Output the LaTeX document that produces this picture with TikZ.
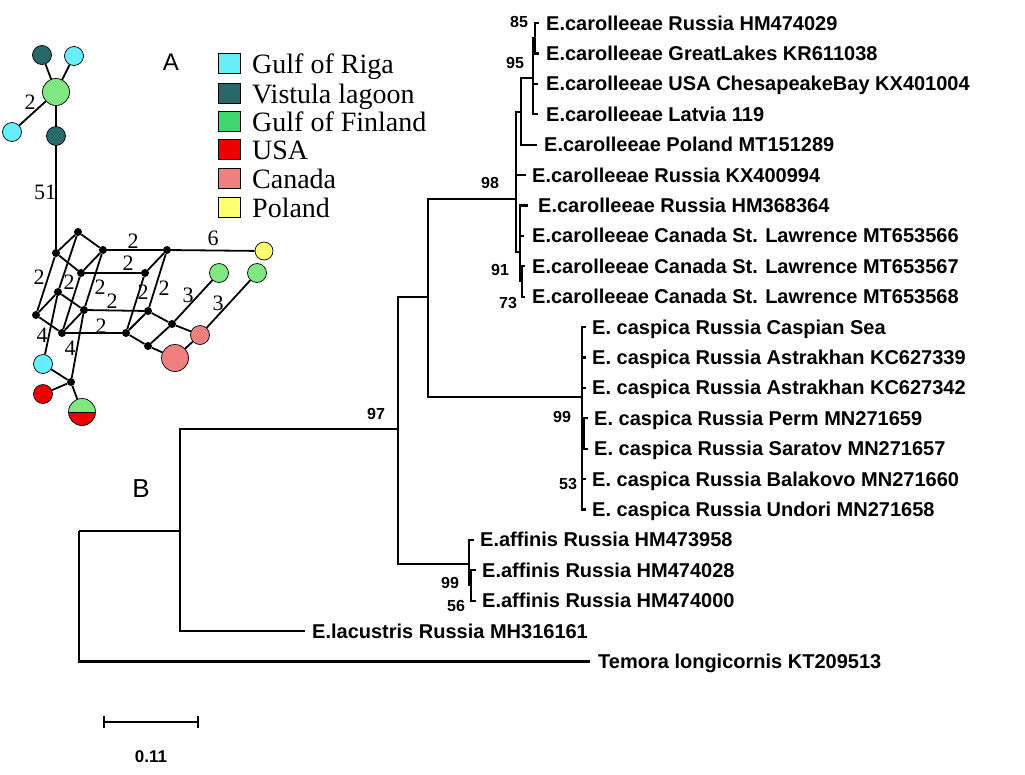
\documentclass[tikz,border=0pt]{standalone}
\usepackage{fontspec}
\setmainfont{Liberation Serif}
\newfontfamily\arialfont{Liberation Sans}
\usetikzlibrary{calc}

\definecolor{riga}{RGB}{102,238,250}
\definecolor{vistula}{RGB}{40,104,104}
\definecolor{finland}{RGB}{64,214,112}
\definecolor{finlandlt}{RGB}{128,232,128}
\definecolor{usa}{RGB}{236,0,0}
\definecolor{canada}{RGB}{240,128,128}
\definecolor{poland}{RGB}{255,255,112}

\begin{document}
\begin{tikzpicture}[
    x=1pt, y=-1pt,
    branch/.style={line width=2.2pt},
    tiplab/.style={anchor=base west, inner sep=0pt, font=\arialfont\bfseries\fontsize{20}{24}\selectfont},
    boot/.style={inner sep=0pt, font=\arialfont\bfseries\fontsize{16}{19}\selectfont},
    med/.style={circle, fill=black, inner sep=0pt, minimum size=8pt},
    hap/.style={circle, draw=black, line width=0.7pt, inner sep=0pt, minimum size=19pt},
    bighap/.style={hap, minimum size=27pt},
    link/.style={line width=1.8pt},
    mut/.style={inner sep=0pt, font=\fontsize{22}{26}\selectfont},
    legbox/.style={draw=black, line width=0.8pt, minimum width=22pt, minimum height=20pt, inner sep=0pt},
    legtext/.style={anchor=base west, inner sep=0pt, font=\fontsize{28}{32}\selectfont},
    panel/.style={inner sep=0pt, font=\arialfont\fontsize{24}{28}\selectfont}
]
\useasboundingbox (0,0) rectangle (1025,774);

% Panel letters
\node[panel] (lblA) at (171,62) {A};
\node[panel, font=\arialfont\fontsize{26}{30}\selectfont] (lblB) at (141,489) {B};

% Legend
\node[legbox, fill=riga] (kRiga) at (229.5,63) {};
\node[legbox, fill=vistula] (kVist) at (229.5,93) {};
\node[legbox, fill=finland] (kFin) at (229.5,121) {};
\node[legbox, fill=usa] (kUsa) at (229.5,149) {};
\node[legbox, fill=canada] (kCan) at (229.5,178) {};
\node[legbox, fill=poland] (kPol) at (229.5,207) {};
\node[legtext] (tRiga) at (252,73) {Gulf of Riga};
\node[legtext] (tVist) at (252,103) {Vistula lagoon};
\node[legtext] (tFin) at (252,131) {Gulf of Finland};
\node[legtext] (tUsa) at (252,159) {USA};
\node[legtext] (tCan) at (252,188) {Canada};
\node[legtext] (tPol) at (252,217) {Poland};

% Haplotype network
\node[hap, fill=vistula] (hT1) at (42,55) {};
\node[hap, fill=riga] (hC1) at (74,56) {};
\node[bighap, fill=finlandlt] (hG) at (56,92) {};
\node[hap, fill=riga] (hC2) at (12,132) {};
\node[hap, fill=vistula] (hT2) at (56,136) {};
\node[med] (m1) at (78,232) {};
\node[med] (m2) at (56,253) {};
\node[med] (m3) at (103,250) {};
\node[med] (m4) at (167,250) {};
\node[hap, minimum size=18pt, fill=poland] (hY) at (264,251) {};
\node[med] (m5) at (81,273) {};
\node[med] (m6) at (145,273) {};
\node[med] (m7) at (58,292) {};
\node[med] (m8) at (36,315) {};
\node[med] (m9) at (84,310) {};
\node[med] (m10) at (148,311) {};
\node[med] (m11) at (62,333) {};
\node[med] (m12) at (126,333) {};
\node[med] (m13) at (172,324) {};
\node[med] (m14) at (148,346) {};
\node[hap, fill=finlandlt] (hG1) at (219,273) {};
\node[hap, fill=finlandlt] (hG2) at (257,273) {};
\node[hap, fill=canada] (hP1) at (200,335) {};
\node[bighap, fill=canada] (hP2) at (175,358) {};
\node[hap, fill=riga] (hC3) at (43,364) {};
\node[med] (m15) at (71,382) {};
\node[hap, fill=usa] (hR) at (43,394) {};
\node[bighap, path picture={
    \fill[finlandlt] (path picture bounding box.north west) rectangle (path picture bounding box.east);
    \fill[usa] (path picture bounding box.west) rectangle (path picture bounding box.south east);
    \draw[line width=0.7pt] (path picture bounding box.west) -- (path picture bounding box.east);
  }] (hH) at (82,412) {};

\draw[link] (hG) -- (hT1);
\draw[link] (hG) -- (hC1);
\draw[link] (hG) -- (hC2);
\draw[link] (hG) -- (hT2);
\draw[link] (hT2) -- (m2);
\draw[link] (m2) -- (m1);
\draw[link] (m1) -- (m3);
\draw[link] (m2) -- (m5);
\draw[link] (m3) -- (m5);
\draw[link] (m3) -- (m4);
\draw[link] (m4) -- (hY);
\draw[link] (m5) -- (m6);
\draw[link] (m4) -- (m6);
\draw[link] (m2) -- (m8);
\draw[link] (m1) -- (m7);
\draw[link] (m3) -- (m9);
\draw[link] (m5) -- (m11);
\draw[link] (m4) -- (m10);
\draw[link] (m6) -- (m12);
\draw[link] (m8) -- (m7);
\draw[link] (m8) -- (m11);
\draw[link] (m7) -- (m9);
\draw[link] (m11) -- (m9);
\draw[link] (m9) -- (m10);
\draw[link] (m11) -- (m12);
\draw[link] (m12) -- (m10);
\draw[link] (m10) -- (m13);
\draw[link] (m12) -- (m14);
\draw[link] (m14) -- (m13);
\draw[link] (m13) -- (hG1);
\draw[link] (m13) -- (hP1);
\draw[link] (m14) -- (hP2);
\draw[link] (hP2) -- (hP1);
\draw[link] (hP1) -- (hG2);
\draw[link] (m7) -- (hC3);
\draw[link] (m9) -- (m15);
\draw[link] (m15) -- (hC3);
\draw[link] (m15) -- (hR);
\draw[link] (m15) -- (hH);

% Mutation counts
\node[mut] (c1) at (30,102) {2};
\node[mut] (c2) at (45,192) {51};
\node[mut] (c3) at (133,241) {2};
\node[mut] (c4) at (213,238) {6};
\node[mut] (c5) at (128,263) {2};
\node[mut] (c6) at (39,277) {2};
\node[mut] (c7) at (69,282) {2};
\node[mut] (c8) at (100,287) {2};
\node[mut] (c9) at (112,301) {2};
\node[mut] (c10) at (143,292) {2};
\node[mut] (c11) at (164,288) {2};
\node[mut] (c12) at (101,326) {2};
\node[mut] (c13) at (188,295) {3};
\node[mut] (c14) at (218,303) {3};
\node[mut] (c15) at (42,335) {4};
\node[mut] (c16) at (70,348) {4};

% Tree: inner nodes
\coordinate (root) at (79,531);
\coordinate (n180) at (180,531);
\coordinate (n398) at (398,429);
\coordinate (n428) at (428,297);
\coordinate (n516) at (516,199);
\coordinate (n521) at (521,112);
\coordinate (n533) at (533,78);
\coordinate (n535) at (535,38);
\coordinate (n520) at (520,252);
\coordinate (n522) at (522,281);
\coordinate (nCas) at (582,397);
\coordinate (n584) at (584,441);
\coordinate (nAff) at (469,564);
\coordinate (n471) at (471,585);

% Tree: tips
\coordinate (t1) at (539,23);
\coordinate (t2) at (539,53.4);
\coordinate (t3) at (538,83.8);
\coordinate (t4) at (538,114.2);
\coordinate (t5) at (537,144.6);
\coordinate (t6) at (526,175);
\coordinate (t7) at (528,205.4);
\coordinate (t8) at (524,235.8);
\coordinate (t9) at (525,266.2);
\coordinate (t10) at (525,296.6);
\coordinate (t11) at (586,327);
\coordinate (t12) at (586,357.4);
\coordinate (t13) at (586,387.8);
\coordinate (t14) at (588,418.2);
\coordinate (t15) at (588,448.6);
\coordinate (t16) at (586,479);
\coordinate (t17) at (586,509.4);
\coordinate (t18) at (474,539.8);
\coordinate (t19) at (476,570.2);
\coordinate (t20) at (476,600.6);
\coordinate (t21) at (305,631);
\coordinate (t22) at (590,661.4);

\node[tiplab] (s1) at (546,30) {E.carolleeae Russia HM474029};
\node[tiplab] (s2) at (546,60.4) {E.carolleeae GreatLakes KR611038};
\node[tiplab] (s3) at (546,90.8) {E.carolleeae USA ChesapeakeBay KX401004};
\node[tiplab] (s4) at (546,121.2) {E.carolleeae Latvia 119};
\node[tiplab] (s5) at (544,151.6) {E.carolleeae Poland MT151289};
\node[tiplab] (s6) at (532,182) {E.carolleeae Russia KX400994};
\node[tiplab] (s7) at (538,212.4) {E.carolleeae Russia HM368364};
\node[tiplab] (s8) at (532,242.8) {E.carolleeae Canada St. Lawrence MT653566};
\node[tiplab] (s9) at (532,273.2) {E.carolleeae Canada St. Lawrence MT653567};
\node[tiplab] (s10) at (532,303.6) {E.carolleeae Canada St. Lawrence MT653568};
\node[tiplab] (s11) at (592,334) {E. caspica Russia Caspian Sea};
\node[tiplab] (s12) at (592,364.4) {E. caspica Russia Astrakhan KC627339};
\node[tiplab] (s13) at (592,394.8) {E. caspica Russia Astrakhan KC627342};
\node[tiplab] (s14) at (594,425.2) {E. caspica Russia Perm MN271659};
\node[tiplab] (s15) at (594,455.6) {E. caspica Russia Saratov MN271657};
\node[tiplab] (s16) at (592,486) {E. caspica Russia Balakovo MN271660};
\node[tiplab] (s17) at (592,516.4) {E. caspica Russia Undori MN271658};
\node[tiplab] (s18) at (480,546.8) {E.affinis Russia HM473958};
\node[tiplab] (s19) at (482,577.2) {E.affinis Russia HM474028};
\node[tiplab] (s20) at (482,607.6) {E.affinis Russia HM474000};
\node[tiplab] (s21) at (312,638) {E.lacustris Russia MH316161};
\node[tiplab] (s22) at (598,668.4) {Temora longicornis KT209513};

% Branches
\draw[branch] (root) |- (n180);
\draw[branch] (root) |- (t22);
\draw[branch] (n180) |- (n398);
\draw[branch] (n180) |- (t21);
\draw[branch] (n398) |- (n428);
\draw[branch] (n398) |- (nAff);
\draw[branch] (n428) |- (n516);
\draw[branch] (n428) |- (nCas);
\draw[branch] (n516) |- (n521);
\draw[branch] (n516) |- (t6);
\draw[branch] (n516) |- (n520);
\draw[branch] (n521) |- (n533);
\draw[branch] (n521) |- (t5);
\draw[branch] (n533) |- (n535);
\draw[branch] (n533) |- (t3);
\draw[branch] (n533) |- (t4);
\draw[branch] (n535) |- (t1);
\draw[branch] (n535) |- (t2);
\draw[branch] (n520) |- (t7);
\draw[branch] (n520) |- (t8);
\draw[branch] (n520) |- (n522);
\draw[branch] (n522) |- (t9);
\draw[branch] (n522) |- (t10);
\draw[branch] (nCas) |- (t11);
\draw[branch] (nCas) |- (t12);
\draw[branch] (nCas) |- (t13);
\draw[branch] (nCas) |- (n584);
\draw[branch] (nCas) |- (t16);
\draw[branch] (nCas) |- (t17);
\draw[branch] (n584) |- (t14);
\draw[branch] (n584) |- (t15);
\draw[branch] (nAff) |- (t18);
\draw[branch] (nAff) |- (n471);
\draw[branch] (n471) |- (t19);
\draw[branch] (n471) |- (t20);

% Bootstrap values
\node[boot] (b85) at (519,22) {85};
\node[boot] (b95) at (515,63) {95};
\node[boot] (b98) at (490,183) {98};
\node[boot] (b91) at (500,270) {91};
\node[boot] (b73) at (508,303) {73};
\node[boot] (b97) at (376,414) {97};
\node[boot] (b99c) at (562,417) {99};
\node[boot] (b53) at (568,484) {53};
\node[boot] (b99a) at (450,583) {99};
\node[boot] (b56) at (456,606) {56};

% Scale bar
\coordinate (sbL) at (104,722);
\coordinate (sbR) at (198,722);
\draw[branch] (sbL) -- (sbR);
\draw[branch] ($(sbL)+(0,-6)$) -- ($(sbL)+(0,6)$);
\draw[branch] ($(sbR)+(0,-6)$) -- ($(sbR)+(0,6)$);
\node[boot, font=\arialfont\bfseries\fontsize{17}{20}\selectfont] (sbLab) at (151,757) {0.11};
\end{tikzpicture}
\end{document}
